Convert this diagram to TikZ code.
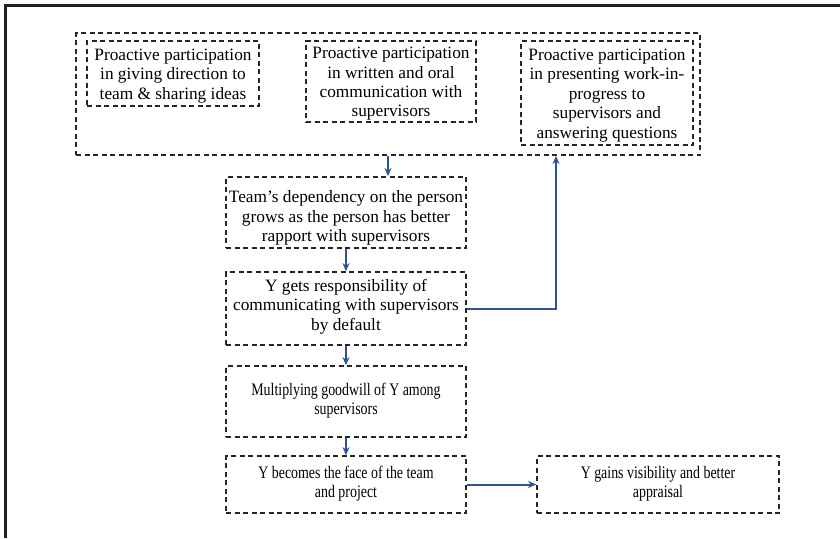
\documentclass[tikz,border=0pt]{standalone}
\usepackage{fontspec}
\setmainfont{Liberation Serif}
\newfontfamily\condfont[FakeStretch=0.79]{Liberation Serif}
\usetikzlibrary{arrows.meta}
\definecolor{arrblue}{RGB}{47,84,150}
\definecolor{framegray}{RGB}{35,31,32}
\begin{document}
\begin{tikzpicture}[x=1pt,y=-1pt,
  box/.style={draw=black!85, line width=1.8pt, dash pattern=on 5pt off 3.5pt,
    inner sep=0pt},
  txt/.style={inner sep=0pt, align=center, font=\fontsize{17.3}{19.4}\selectfont},
  ctxt/.style={txt, font=\condfont\fontsize{17.6}{19.4}\selectfont},
  arr/.style={draw=arrblue, line width=2pt, -{Stealth[length=8pt,width=7pt]}}]
\useasboundingbox (0,0) rectangle (840,538);
\fill[white] (0,0) rectangle (840,538);
\draw[line width=3.5pt, framegray] (5.5,538) -- (5.5,5.5) -- (840,5.5);

\node[box, minimum width=624pt, minimum height=122pt] (outer) at (388,94) {};
\node[box, minimum width=172pt, minimum height=65pt] (b1) at (173,73.5) {};
\node[box, minimum width=170pt, minimum height=81pt] (b2) at (391,81.5) {};
\node[box, minimum width=172pt, minimum height=104pt] (b3) at (607,93) {};
\node[box, minimum width=240pt, minimum height=71pt] (b4) at (346,212.5) {};
\node[box, minimum width=240pt, minimum height=73pt] (b5) at (346,308.5) {};
\node[box, minimum width=240pt, minimum height=71pt] (b6) at (346,401.5) {};
\node[box, minimum width=240pt, minimum height=57pt] (b7) at (346,484.5) {};
\node[box, minimum width=242pt, minimum height=57pt] (b8) at (658,484.5) {};

\node[txt] (t1) at ([yshift=-2.5pt]b1.center)
  {Proactive participation\\in giving direction to\\team \& sharing ideas};
\node[txt] (t2) at ([yshift=-2.5pt]b2.center)
  {Proactive participation\\in written and oral\\communication with\\supervisors};
\node[txt] (t3) at ([yshift=-2.5pt]b3.center)
  {Proactive participation\\in presenting work-in-\\progress to\\supervisors and\\answering questions};
\node[txt] (t4) at ([yshift=-5.5pt]b4.center)
  {Team’s dependency on the person\\grows as the person has better\\rapport with supervisors};
\node[txt] (t5) at ([yshift=2pt]b5.center)
  {Y gets responsibility of\\communicating with supervisors\\by default};
\node[ctxt] (t6) at ([yshift=1pt]b6.center)
  {Multiplying goodwill of Y among\\supervisors};
\node[ctxt] (t7) at ([yshift=1pt]b7.center)
  {Y becomes the face of the team\\and project};
\node[ctxt] (t8) at ([yshift=1pt]b8.center)
  {Y gains visibility and better\\appraisal};

\coordinate (fb) at (556,156);
\draw[arr] (outer.south) -- (outer.south |- b4.north);
\draw[arr] (b4.south) -- (b5.north);
\draw[arr] (b5.east) -| (fb);
\draw[arr] (b5.south) -- (b6.north);
\draw[arr] (b6.south) -- (b7.north);
\draw[arr] (b7.east) -- (b8.west);
\end{tikzpicture}
\end{document}
